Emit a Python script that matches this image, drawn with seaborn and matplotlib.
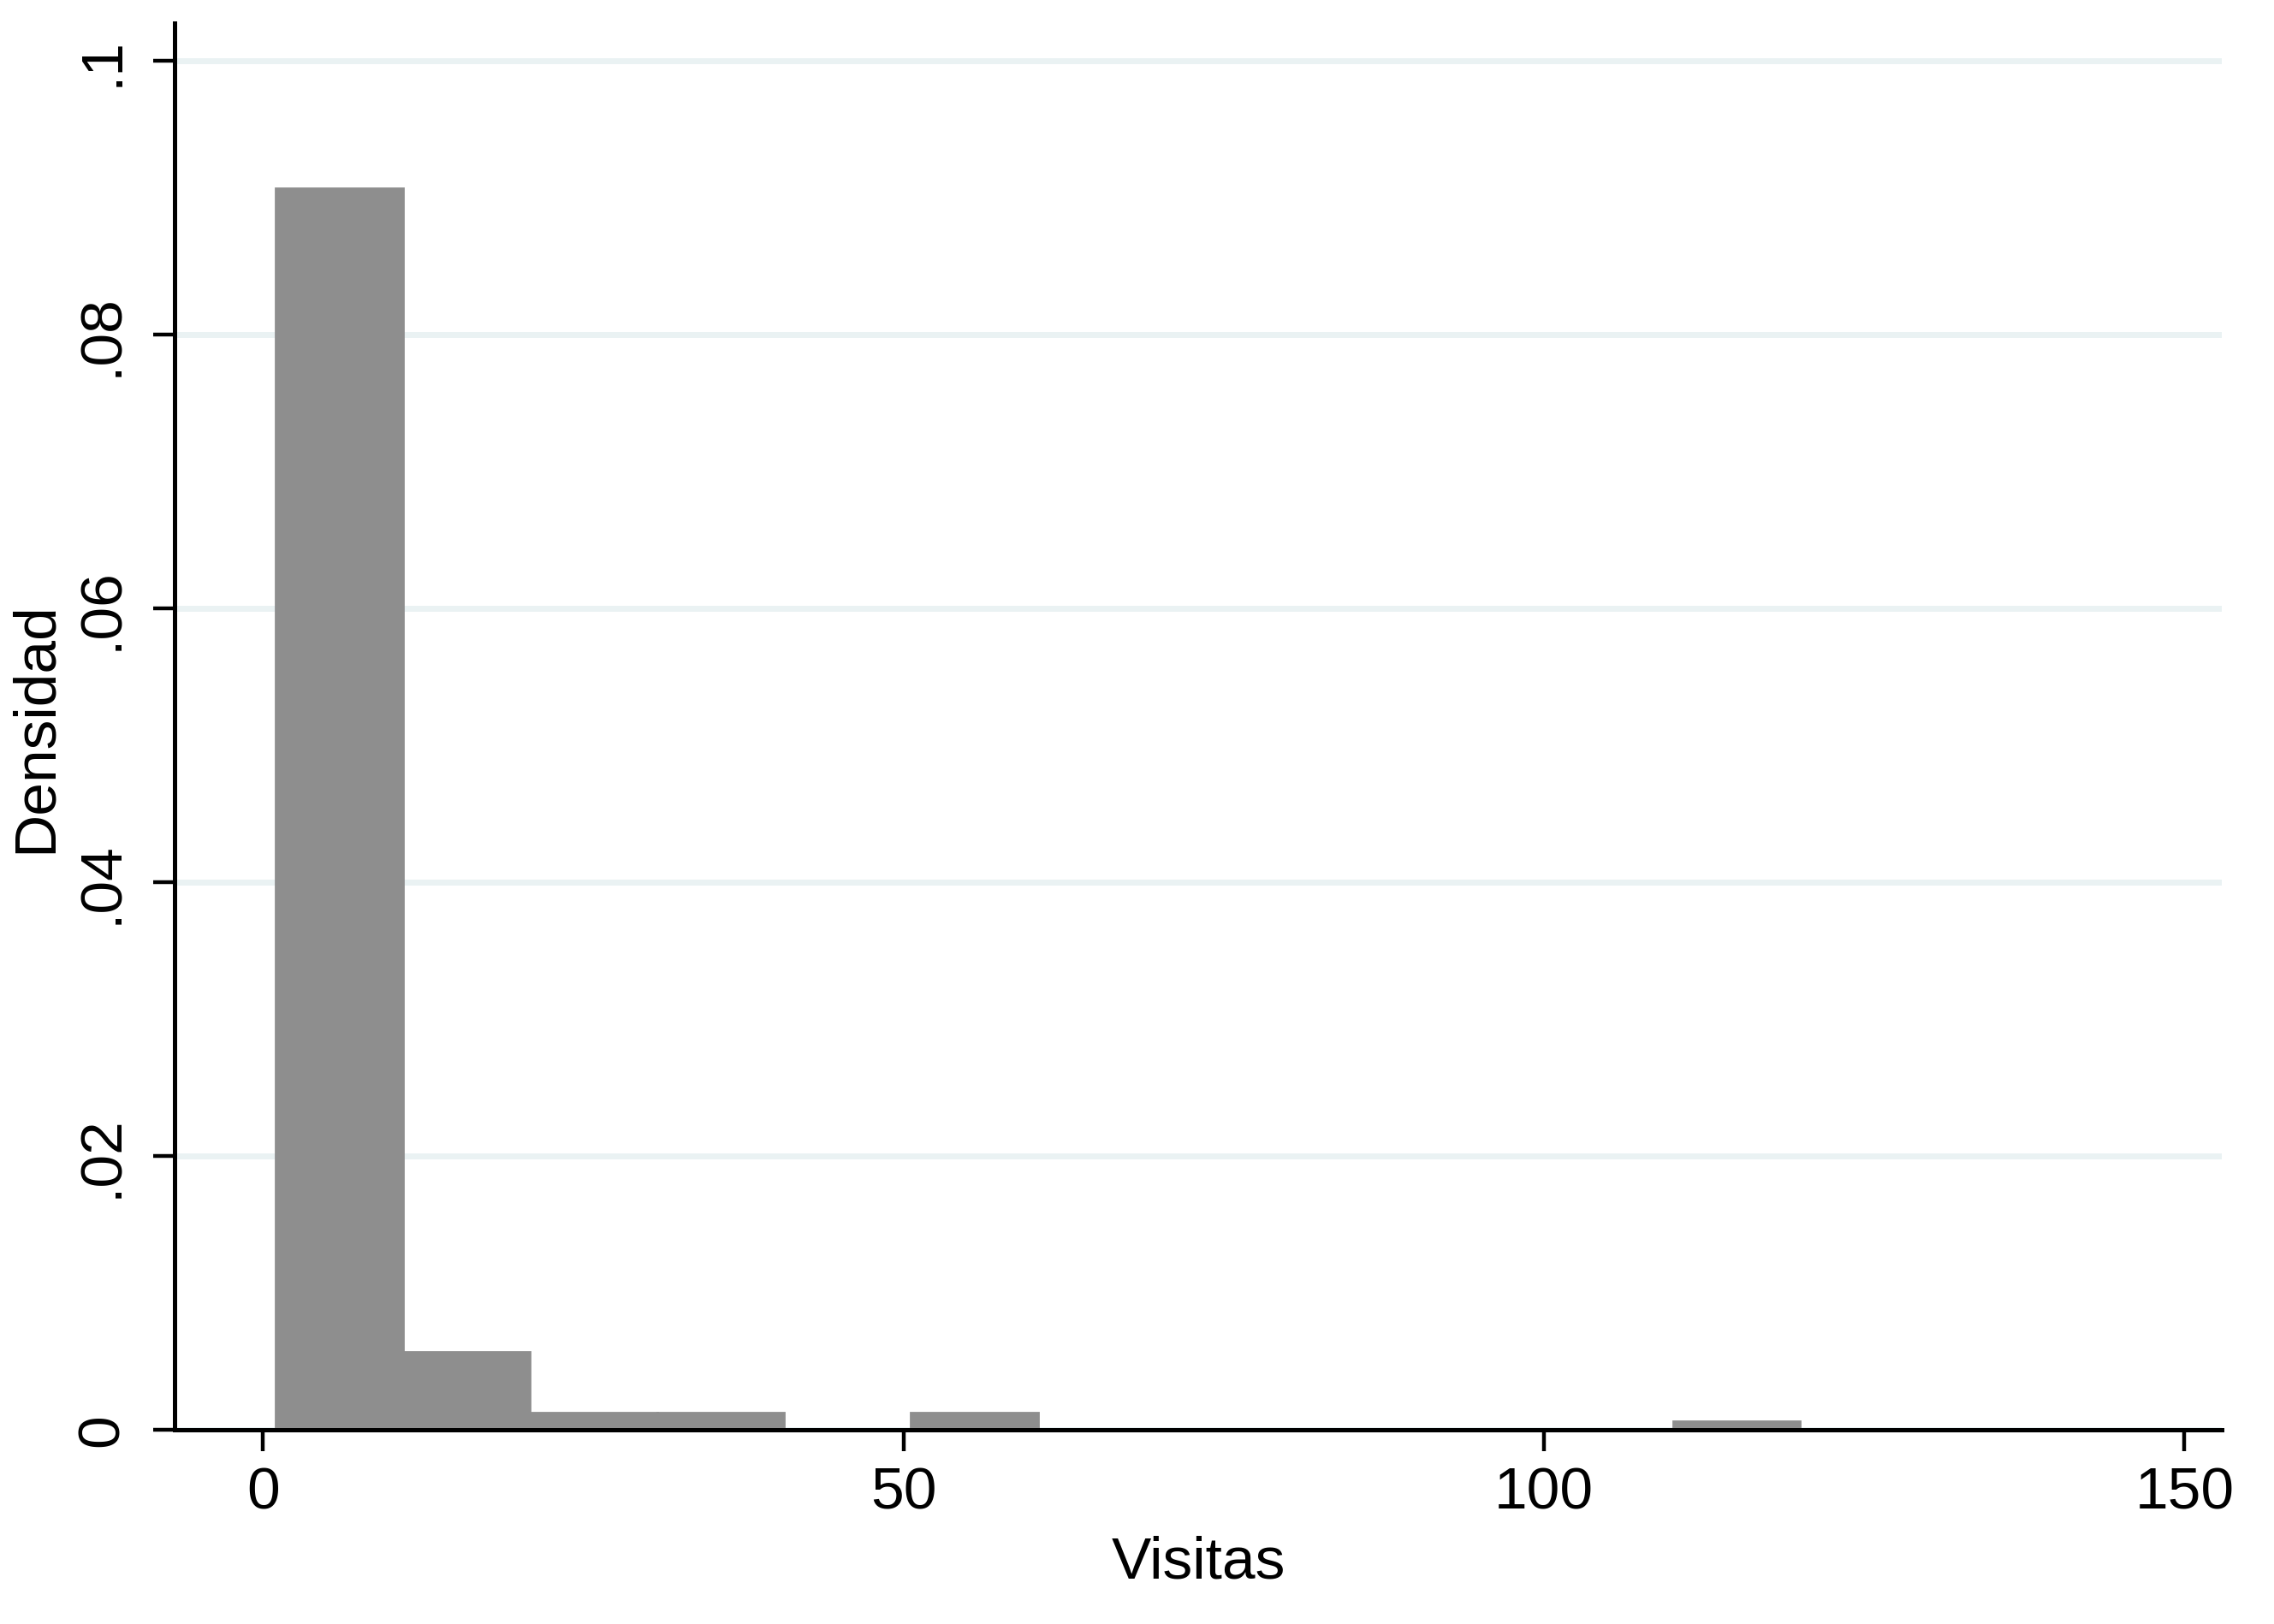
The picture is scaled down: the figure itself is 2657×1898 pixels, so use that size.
import pandas as pd
import seaborn as sns
import matplotlib.pyplot as plt

# histogram of visits: 12 bins between min 1 and max 120
bin_edges = [1 + i * (120 - 1) / 12 for i in range(13)]
bin_counts = [143, 9, 2, 2, 0, 2, 0, 0, 0, 0, 0, 1]
y_ticks = [0, 0.02, 0.04, 0.06, 0.08, 0.1]
y_tick_labels = ["0", ".02", ".04", ".06", ".08", ".1"]
x_ticks = [0, 50, 100, 150]

BAR_COLOR = "#8e8e8e"
GRID_COLOR = "#eaf2f3"

sns.set_style("white")
plt.rcParams["font.family"] = ["Liberation Sans", "DejaVu Sans"]
plt.rcParams["text.color"] = "black"
plt.rcParams["axes.labelcolor"] = "black"

centers = [(bin_edges[i] + bin_edges[i + 1]) / 2 for i in range(len(bin_counts))]
data = pd.DataFrame({"visitas": centers, "n": bin_counts})

fig = plt.figure(figsize=(13.285, 9.495), dpi=200)
ax = fig.add_axes([0.0768, 0.1195, 0.977 - 0.0768, 0.9853 - 0.1195])

sns.histplot(
    data=data,
    x="visitas",
    weights="n",
    bins=bin_edges,
    stat="density",
    color=BAR_COLOR,
    alpha=1,
    edgecolor=BAR_COLOR,
    linewidth=1.0,
    ax=ax,
    zorder=2,
)

ax.set_xlim(-6.9, 152.9)
ax.set_ylim(0, 0.10275)
ax.set_xticks(x_ticks)
ax.set_xticklabels([str(t) for t in x_ticks])
ax.set_yticks(y_ticks)
ax.set_yticklabels(y_tick_labels, rotation=90, va="center")

for t in y_ticks:
    ax.axhline(t, color=GRID_COLOR, linewidth=2.5, zorder=0)

for side in ["top", "right"]:
    ax.spines[side].set_visible(False)
for side in ["left", "bottom"]:
    ax.spines[side].set_linewidth(1.8)
    ax.spines[side].set_color("black")
    ax.spines[side].set_zorder(3)

ax.tick_params(axis="both", which="major", length=9, width=1.6, color="black",
               labelsize=25, labelcolor="black")
ax.tick_params(axis="y", pad=10, left=True)
ax.tick_params(axis="x", pad=6, bottom=True)

ax.set_xlabel("Visitas", fontsize=25, labelpad=6, color="black")
ax.set_ylabel("Densidad", fontsize=25, labelpad=5, color="black")

fig.savefig("out.png", dpi=200)
plt.close(fig)
